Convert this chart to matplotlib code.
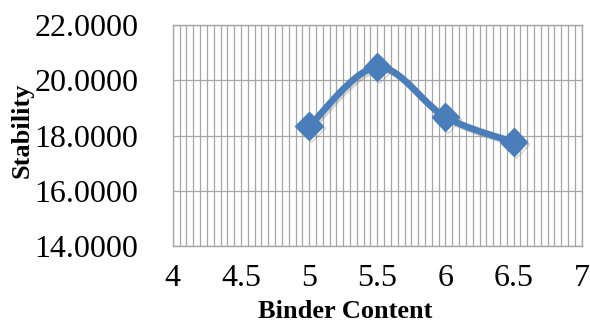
import numpy as np
import matplotlib.pyplot as plt
from matplotlib.ticker import MultipleLocator, FormatStrFormatter
import matplotlib.patheffects as pe

binder = [5.0, 5.5, 6.0, 6.5]
stability = [18.34, 20.48, 18.67, 17.76]


def smooth(x, y, n=40):
    # cubic Bezier through the points, Catmull-Rom style tangents
    x = np.asarray(x, float)
    y = np.asarray(y, float)
    px = np.concatenate([[x[0]], x, [x[-1]]])
    py = np.concatenate([[y[0]], y, [y[-1]]])
    xs, ys = [], []
    t = np.linspace(0, 1, n)
    for i in range(1, len(px) - 2):
        p0 = np.array([px[i], py[i]])
        p3 = np.array([px[i + 1], py[i + 1]])
        p1 = p0 + (np.array([px[i + 1], py[i + 1]]) - np.array([px[i - 1], py[i - 1]])) / 6
        p2 = p3 - (np.array([px[i + 2], py[i + 2]]) - np.array([px[i], py[i]])) / 6
        b = ((1 - t) ** 3)[:, None] * p0 + (3 * (1 - t) ** 2 * t)[:, None] * p1 \
            + (3 * (1 - t) * t ** 2)[:, None] * p2 + (t ** 3)[:, None] * p3
        xs.extend(b[:, 0])
        ys.extend(b[:, 1])
    return np.array(xs), np.array(ys)


plt.rcParams['font.family'] = 'Liberation Serif'

fig = plt.figure(figsize=(5.9, 3.25), dpi=100)
ax = fig.add_axes([0.293, 0.243, 0.693, 0.68])

blue = '#4a7ebb'
shadow = [pe.SimpleLineShadow(offset=(1.5, -1.5), shadow_color='gray', alpha=0.35), pe.Normal()]

sx, sy = smooth(binder, stability)
ax.plot(sx, sy, color=blue, lw=4.8, solid_capstyle='round', path_effects=shadow, zorder=3)
ax.plot(binder, stability, 'D', color=blue, markersize=14, path_effects=shadow, zorder=4)

ax.set_xlim(4, 7)
ax.set_ylim(14, 22)
ax.xaxis.set_major_locator(MultipleLocator(0.5))
ax.xaxis.set_minor_locator(MultipleLocator(0.05))
ax.yaxis.set_major_locator(MultipleLocator(2))
ax.yaxis.set_major_formatter(FormatStrFormatter('%.4f'))
ax.xaxis.set_major_formatter(FormatStrFormatter('%g'))

ax.grid(True, which='both', axis='x', color='#a6a6a6', lw=0.9)
ax.grid(True, which='major', axis='y', color='#a6a6a6', lw=0.9)
ax.set_axisbelow(True)
for s in ax.spines.values():
    s.set_color('#a6a6a6')
    s.set_linewidth(1.0)

ax.tick_params(which='both', length=0, labelsize=23)
ax.tick_params(axis='y', pad=25)
ax.tick_params(axis='x', pad=13)

fig.text(0.585, 0.042, 'Binder Content', fontsize=19, fontweight='bold', ha='center', va='center')
fig.text(0.037, 0.6, 'Stability', fontsize=19, fontweight='bold', rotation=90, ha='center', va='center')

fig.savefig('out.png', dpi=100)
